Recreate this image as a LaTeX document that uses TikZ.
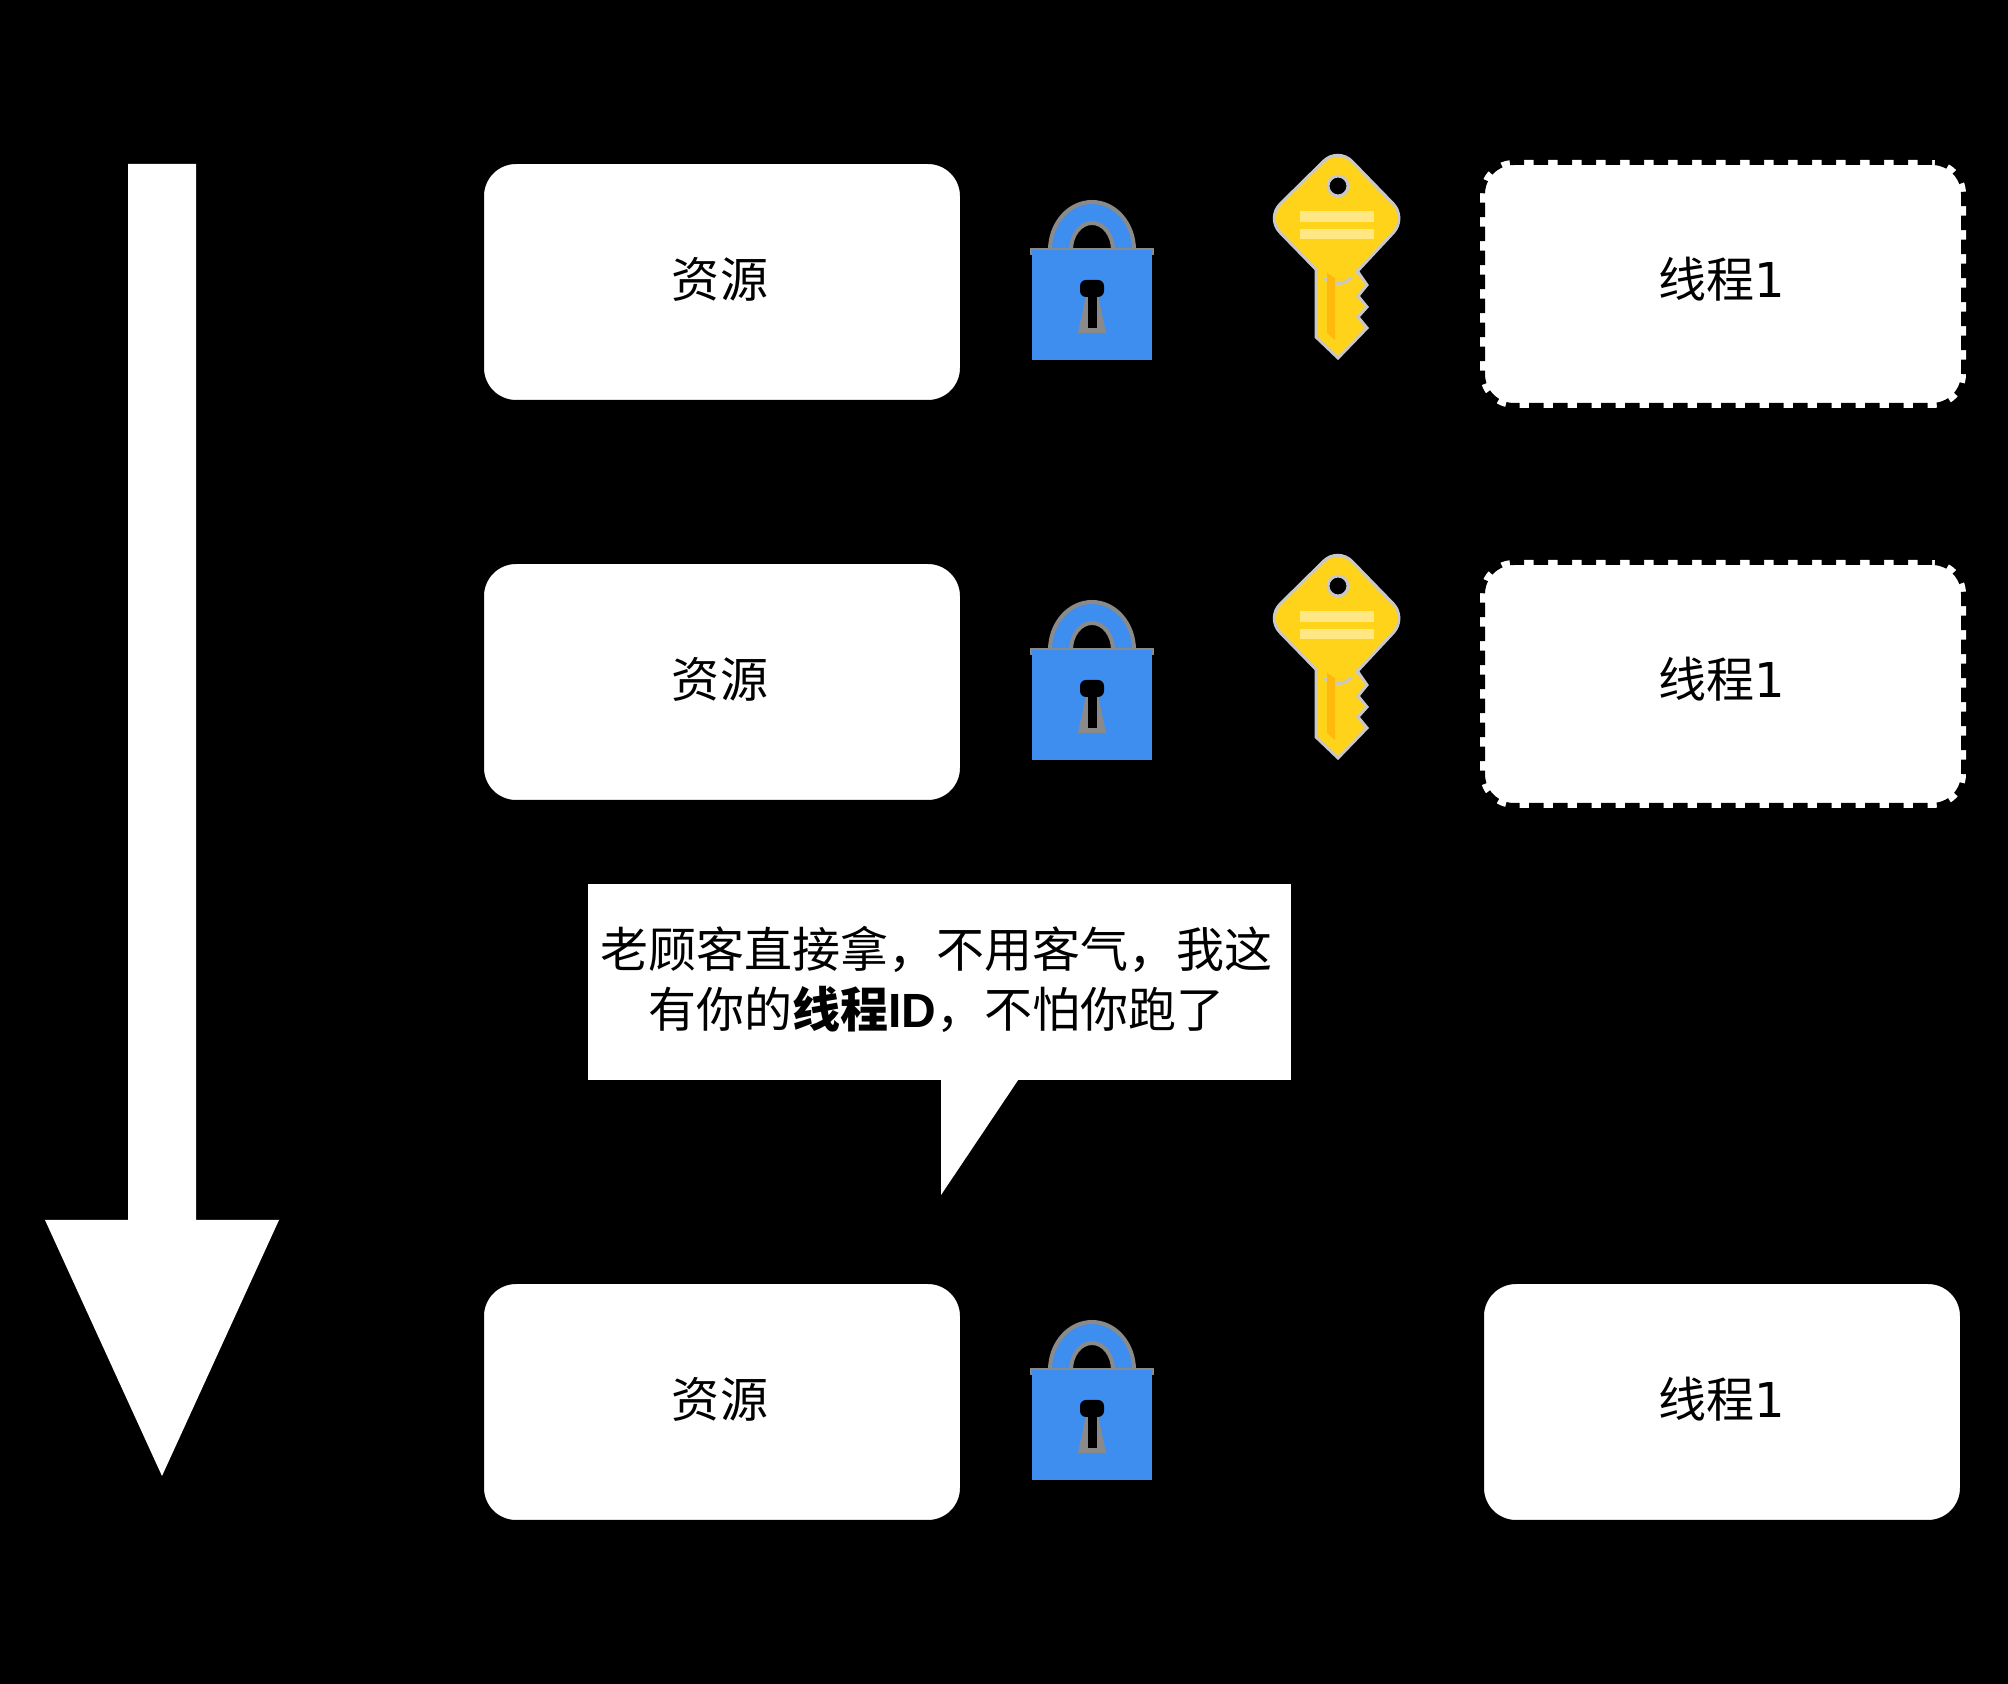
\documentclass[tikz,border=0pt]{standalone}
\usepackage{fontspec}
\setmainfont{Noto Sans CJK SC}
\newfontfamily\latinfont{DejaVu Sans}
\newfontfamily\idfont{Liberation Sans}
\usepackage{tikz}
\usetikzlibrary{positioning, calc}

\definecolor{lockblue}{HTML}{3E8EF0}
\definecolor{lockhalo}{HTML}{8A8A8A}
\definecolor{keyyellow}{HTML}{FFD31A}
\definecolor{keystripe}{HTML}{FFE883}
\definecolor{keyorange}{HTML}{FFB80C}
\definecolor{keyhalo}{HTML}{C8C8C8}

\begin{document}
\begin{tikzpicture}[
    font=\fontsize{13.66}{17.07}\selectfont,    % 48 px text
    resource/.style={draw=black, fill=white, line width=0.04cm, rounded corners=0.34cm,
        minimum width=4.8cm, minimum height=2.4cm, outer sep=0pt, inner sep=0pt,
        text height=0.5cm, text depth=0.195cm},
    holder/.style={draw=black, fill=white, line width=0.1cm, rounded corners=0.34cm,
        dash pattern=on 0.145cm off 0.095cm,
        minimum width=4.86cm, minimum height=2.48cm, outer sep=0pt, inner sep=0pt,
        text height=0.5cm, text depth=0.235cm},
    bubble/.style={draw=black, fill=white, line width=0.04cm, align=center,
        minimum width=7.07cm, minimum height=2cm, outer sep=0pt, inner sep=0pt,
        text depth=0.1cm},
    lockicon/.pic={
        % shackle
        \fill [lockhalo] (-0.62, 0.50) rectangle (0.62, 0.57);
        \draw [lockhalo, fill=lockblue, line width=0.04cm, even odd rule]
            (-0.42, 0.55) arc [x radius=0.42, y radius=0.48, start angle=180, end angle=0]
            -- (0.21, 0.55) arc [x radius=0.21, y radius=0.27, start angle=0, end angle=180] -- cycle;
        % body and keyhole
        \fill [lockblue] (-0.60, 0.55) rectangle (0.60, -0.55);
        \fill [lockhalo] (-0.06, 0.10) -- (0.06, 0.10) -- (0.14, -0.28) -- (-0.14, -0.28) -- cycle;
        \fill [black, rounded corners=0.06cm] (-0.12, 0.25) rectangle (0.12, 0.08);
        \fill [black] (-0.045, 0.10) rectangle (0.045, -0.23);
    },
    keyicon/.pic={
        % blade with three teeth
        \draw [keyhalo, fill=keyyellow, line width=0.03cm]
            (-0.22, -0.40) -- (0.20, -0.40) -- (0.20, -0.54) -- (0.29, -0.67) -- (0.20, -0.78)
            -- (0.29, -0.89) -- (0.20, -0.99) -- (0.29, -1.10) -- (0, -1.40) -- (-0.22, -1.19) -- cycle;
        % head
        \draw [keyhalo, fill=keyyellow, line width=0.03cm, rounded corners=0.2cm]
            (0, 0.71) -- (0.69, 0) -- (0, -0.74) -- (-0.72, 0) -- cycle;
        \fill [keyyellow] (-0.20, -0.30) rectangle (0.18, -0.60);
        \draw [keyhalo, fill=black, line width=0.03cm] (0, 0.32) circle [radius=0.10];
        \fill [keystripe] (-0.38, 0.07) rectangle (0.36, -0.04);
        \fill [keystripe] (-0.38, -0.11) rectangle (0.36, -0.21);
        \fill [keyorange] (-0.11, -0.55) -- (-0.03, -0.60) -- (-0.03, -1.22) -- (-0.11, -1.15) -- cycle;
    }
]

    % --- 1. Background and page size ---
    \fill [black] (0, 0) rectangle (20.08, -16.84);
    \useasboundingbox (0, 0) rectangle (20.08, -16.84);


    % --- 2. Time arrow ---
    \fill [white] (1.28, -1.64) -- (1.96, -1.64) -- (1.96, -12.20) -- (2.79, -12.20)
        -- (1.62, -14.76) -- (0.45, -12.20) -- (1.28, -12.20) -- cycle;


    % --- 3. Resource boxes ---
    \node [resource] (res_a) at (7.22, -2.82) {\hspace*{-0.04cm}资源};
    \node [resource, below=1.6cm of res_a] (res_b) {\hspace*{-0.04cm}资源};
    \node [resource, below=4.8cm of res_b] (res_c) {\hspace*{-0.04cm}资源};


    % --- 4. Thread boxes ---
    \node [holder] (thread_a) at (17.23, -2.84) {\hspace*{-0.02cm}线程{\latinfont 1}};
    \node [holder] (thread_b) at (17.23, -6.84) {\hspace*{-0.02cm}线程{\latinfont 1}};
    \node [resource] (thread_c) at (17.22, -14.02) {线程{\latinfont 1}};


    % --- 5. Locks and keys ---
    \pic at (10.92, -3.05) {lockicon};
    \pic at (10.92, -7.05) {lockicon};
    \pic at (10.92, -14.25) {lockicon};

    \pic at (13.38, -2.18) {keyicon};
    \pic at (13.38, -6.18) {keyicon};


    % --- 6. Speech bubble ---
    \node [bubble] (bubble_text) at (9.395, -9.82) {\hspace*{-0.06cm}老顾客直接拿，不用客气，我这\\
        \hspace*{-0.06cm}有你的{\bfseries 线程{\idfont ID}}，不怕你跑了};
    \coordinate (tail_tip) at (9.41, -11.95);
    \fill [white] ($(bubble_text.south)+(0.015, 0.04)$) -- ($(bubble_text.south)+(0.80, 0.04)$) -- (tail_tip) -- cycle;

\end{tikzpicture}
\end{document}
